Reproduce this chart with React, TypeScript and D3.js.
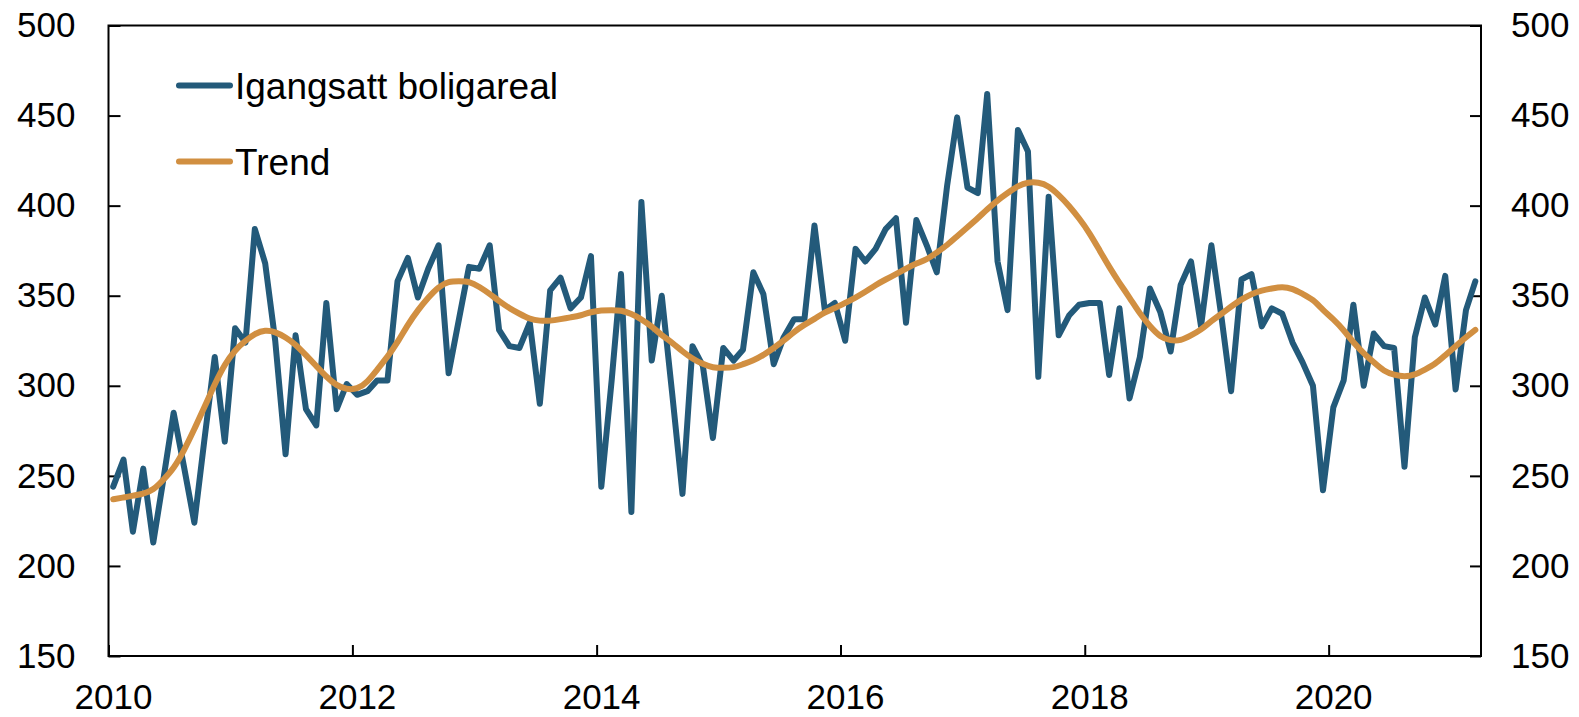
import { useEffect, useRef } from 'react';
import * as d3 from 'd3';

// monthly observations, Jan 2010 - Mar 2021
const startMonth = new Date(2010, 0, 1);

const boligareal = [
  244, 259, 219, 254, 213, 249, 285, 255, 224, 270, 316, 269,
  332, 324, 387, 368, 325, 262, 328, 287, 278, 346, 287, 301,
  295, 297, 303, 303, 358, 371, 349, 365, 378, 307, 337, 366,
  365, 378, 331, 322, 321, 335, 290, 353, 360, 343, 349, 372,
  244, 303, 362, 230, 402, 314, 350, 296, 240, 322, 311, 271,
  321, 314, 320, 363, 351, 312, 327, 337, 337, 389, 342, 346,
  325, 376, 369, 376, 387, 393, 335, 392, 378, 363, 411, 449,
  410, 407, 462, 369, 342, 442, 430, 305, 405, 328, 339, 345,
  346, 346, 306, 343, 293, 316, 354, 341, 319, 356, 369, 333,
  378, 337, 297, 359, 362, 333, 343, 340, 324, 313, 300, 242,
  288, 303, 345, 300, 329, 322, 321, 255, 327, 349, 334, 361,
  298, 342, 358,
];

const trend = [
  237, 238, 239, 240, 242, 248, 254, 264, 276, 288, 301, 312,
  320, 325, 329, 331, 330, 327, 323, 317, 311, 305, 300, 298,
  298, 302, 309, 316, 324, 334, 342, 349, 355, 358, 358, 358,
  355, 351, 347, 343, 340, 337, 336, 336, 337, 338, 339, 341,
  342, 342, 342, 340, 337, 333, 328, 324, 319, 315, 312, 310,
  310, 310, 312, 314, 317, 321, 325, 330, 334, 337, 341, 343,
  346, 349, 352, 356, 359, 362, 365, 368, 370, 374, 378, 383,
  388, 393, 398, 403, 407, 411, 413, 413, 411, 406, 400, 393,
  385, 375, 366, 357, 349, 340, 333, 327, 325, 325, 328, 331,
  336, 340, 344, 348, 351, 353, 354, 355, 354, 351, 348, 342,
  337, 331, 324, 318, 313, 308, 306, 305, 306, 309, 312, 317,
  322, 327, 331,
];

const yTicks = [150, 200, 250, 300, 350, 400, 450, 500];
const xTickYears = [2010, 2012, 2014, 2016, 2018, 2020];

const seriesNames = ['Igangsatt boligareal', 'Trend'];
const seriesColors = ['#235a7a', '#d18f41'];

export default function App() {
  const svgRef = useRef<SVGSVGElement>(null);

  useEffect(() => {
    if (!svgRef.current) return;
    const svg = d3.select(svgRef.current);
    svg.selectAll('*').remove();

    const left = 108.5, right = 1481, top = 25.5, bottom = 656;
    const font = '"Liberation Sans", Arial, sans-serif';

    // points sit in the middle of each month
    const dates = boligareal.map((_, i) => d3.timeDay.offset(d3.timeMonth.offset(startMonth, i), 14));

    const x = d3.scaleTime()
      .domain([new Date(2010, 0, 1), new Date(2021, 3, 1)])
      .range([left, right]);
    const y = d3.scaleLinear().domain([150, 500]).range([bottom, top]);

    // plot frame
    svg.append('rect')
      .attr('x', left).attr('y', top)
      .attr('width', right - left).attr('height', bottom - top)
      .attr('fill', 'none').attr('stroke', '#000').attr('stroke-width', 2);

    const styleAxis = (g: d3.Selection<SVGGElement, unknown, null, undefined>) => {
      g.select('.domain').remove();
      g.selectAll('.tick line').attr('stroke', '#000').attr('stroke-width', 2);
      g.selectAll('.tick text')
        .attr('fill', '#000')
        .style('font-family', font)
        .style('font-size', '35px');
    };

    svg.append('g')
      .attr('transform', `translate(${left},0)`)
      .call(d3.axisLeft(y).tickValues(yTicks).tickSizeInner(-12).tickSizeOuter(0).tickPadding(33))
      .call(styleAxis);

    svg.append('g')
      .attr('transform', `translate(${right},0)`)
      .call(d3.axisRight(y).tickValues(yTicks).tickSizeInner(-11).tickSizeOuter(0).tickPadding(30))
      .call(styleAxis);

    const xAxis = svg.append('g')
      .attr('transform', `translate(0,${bottom})`)
      .call(d3.axisBottom(x)
        .tickValues(xTickYears.map(yr => new Date(yr, 0, 1)))
        .tickFormat(d => d3.timeFormat('%Y')(d as Date))
        .tickSizeInner(-11).tickSizeOuter(0).tickPadding(28))
      .call(styleAxis);
    xAxis.selectAll('.tick text').attr('dx', 4.5);

    const line = d3.line<number>()
      .x((_, i) => x(dates[i]))
      .y(d => y(d));

    svg.append('path')
      .datum(boligareal)
      .attr('d', line)
      .attr('fill', 'none')
      .attr('stroke', seriesColors[0])
      .attr('stroke-width', 6)
      .attr('stroke-linejoin', 'round')
      .attr('stroke-linecap', 'round');

    svg.append('path')
      .datum(trend)
      .attr('d', line.curve(d3.curveBasis))
      .attr('fill', 'none')
      .attr('stroke', seriesColors[1])
      .attr('stroke-width', 6)
      .attr('stroke-linecap', 'round');

    // legend
    const legend = svg.append('g');
    seriesNames.forEach((name, i) => {
      const cy = 85.5 + i * 76;
      legend.append('line')
        .attr('x1', 179).attr('x2', 230)
        .attr('y1', cy).attr('y2', cy)
        .attr('stroke', seriesColors[i])
        .attr('stroke-width', 6)
        .attr('stroke-linecap', 'round');
      legend.append('text')
        .attr('x', 235)
        .attr('y', cy + 13.5)
        .style('font-family', font)
        .style('font-size', '37px')
        .attr('fill', '#000')
        .text(name);
    });
  }, []);

  return (
    <svg
      ref={svgRef}
      width={1579}
      height={717}
      style={{ position: 'absolute', left: 0, top: 0, background: '#fff' }}
    />
  );
}
